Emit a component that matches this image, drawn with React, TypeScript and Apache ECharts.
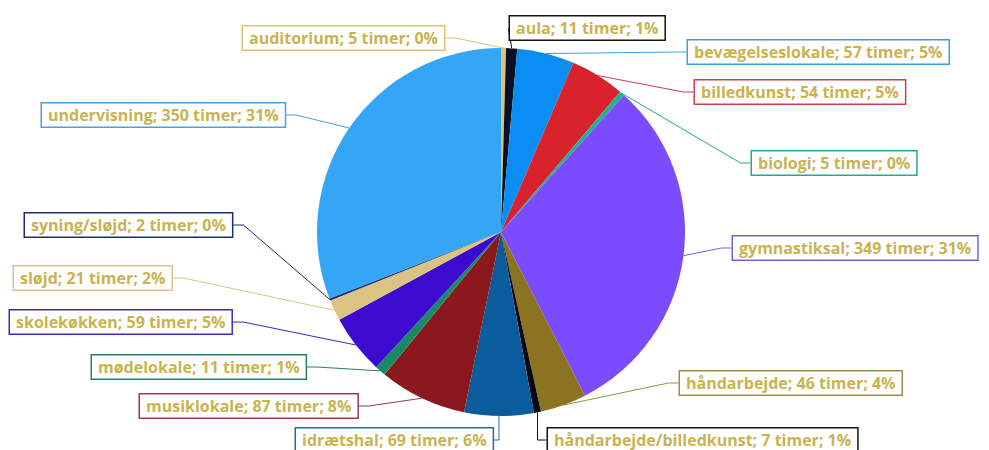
import React, { useEffect, useRef } from "react";
import * as echarts from "echarts";

const categories = [
  "auditorium",
  "aula",
  "bevægelseslokale",
  "billedkunst",
  "biologi",
  "gymnastiksal",
  "håndarbejde",
  "håndarbejde/billedkunst",
  "idrætshal",
  "musiklokale",
  "mødelokale",
  "skolekøkken",
  "sløjd",
  "syning/sløjd",
  "undervisning",
];
const hours = [5, 11, 57, 54, 5, 349, 46, 7, 69, 87, 11, 59, 21, 2, 350];
const sliceColors = [
  "#dcc27a", "#0a1026", "#0a8ef4", "#d8222c", "#22b18c", "#7b4cff", "#8c7322",
  "#05080f", "#0a5c9c", "#8a181d", "#1a8a66", "#3c0bcf", "#dcc383", "#1c2a70", "#35a6f6",
];
const borderColors = [
  "#d8c272", "#111111", "#38a0dc", "#c8404e", "#2aa88c", "#7a60d8", "#a08c48",
  "#111111", "#2a6a98", "#9a3a4c", "#2a7a6a", "#4424c4", "#d8c68e", "#1c2a70", "#4aa0dc",
];
// label box anchor (left x, middle y) in chart px
const labelLeft = [235, 502, 680, 687, 744, 725, 672, 540, 288, 132, 84, 2, 6, 17, 34];
const labelMid = [30, 20, 44, 84, 155, 240, 375, 432, 432, 398, 359, 314, 270, 217, 107];

export default function App() {
  const ref = useRef<HTMLDivElement>(null);
  useEffect(() => {
    if (!ref.current) return;
    const chart = echarts.init(ref.current, null, { renderer: "svg" });
    const total = hours.reduce((a, b) => a + b, 0);
    chart.setOption({
      animation: false,
      backgroundColor: "#ffffff",
      series: [
        {
          type: "pie",
          center: [493, 224],
          radius: 184,
          startAngle: 90,
          clockwise: true,
          avoidLabelOverlap: false,
          data: categories.map((c, i) => ({
            name: c,
            value: hours[i],
            itemStyle: { color: sliceColors[i] },
            label: { borderColor: borderColors[i] },
            labelLine: { lineStyle: { color: borderColors[i] } },
          })),
          label: {
            show: true,
            position: "outside",
            formatter: (p: any) =>
              `${p.name}; ${p.value} timer; ${Math.round((p.value / total) * 100)}%`,
            color: "#c9b350",
            fontFamily: "Open Sans",
            fontWeight: "bold",
            fontSize: 16,
            letterSpacing: -0.2,
            backgroundColor: "#ffffff",
            borderWidth: 1.5,
            padding: [4, 6, 3, 6],
          },
          labelLine: { show: true, length: 10, length2: 10, lineStyle: { width: 1 } },
          labelLayout: (params: any) => {
            const i = params.dataIndex;
            return {
              x: labelLeft[i],
              y: labelMid[i],
              align: "left",
              verticalAlign: "middle",
            };
          },
        },
      ],
    });
    return () => chart.dispose();
  }, []);
  return <div ref={ref} style={{ width: 981, height: 442 }} />;
}
